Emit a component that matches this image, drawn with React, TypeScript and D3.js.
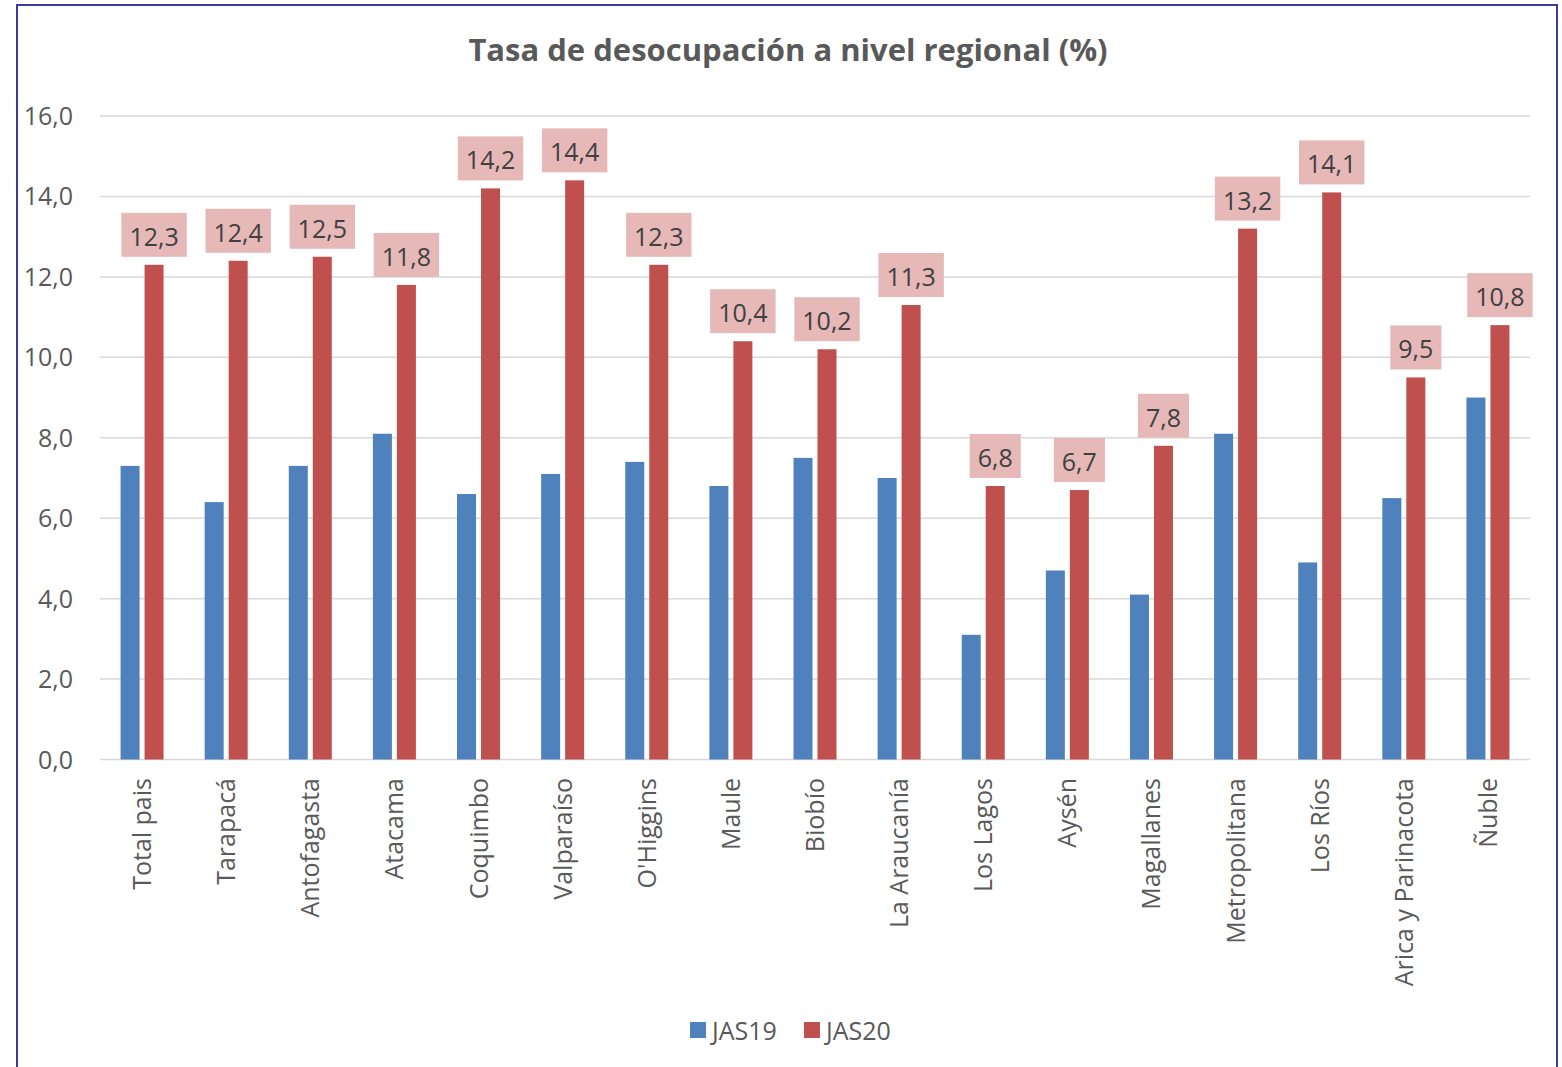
import * as d3 from 'd3';
import React from 'react';

const regions = [
  'Total pais', 'Tarapacá', 'Antofagasta', 'Atacama', 'Coquimbo', 'Valparaíso',
  "O'Higgins", 'Maule', 'Biobío', 'La Araucanía', 'Los Lagos', 'Aysén',
  'Magallanes', 'Metropolitana', 'Los Ríos', 'Arica y Parinacota', 'Ñuble',
];
const jas19 = [7.3, 6.4, 7.3, 8.1, 6.6, 7.1, 7.4, 6.8, 7.5, 7.0, 3.1, 4.7, 4.1, 8.1, 4.9, 6.5, 9.0];
const jas20 = [12.3, 12.4, 12.5, 11.8, 14.2, 14.4, 12.3, 10.4, 10.2, 11.3, 6.8, 6.7, 7.8, 13.2, 14.1, 9.5, 10.8];
const seriesNames = ['JAS19', 'JAS20'];
const yTicks = [0, 2, 4, 6, 8, 10, 12, 14, 16];

const W = 1562;
const H = 1067;
const FONT = '"Open Sans", sans-serif';
const BLUE = '#4f81bd';
const RED = '#c0504d';
const GRID = '#d9d9d9';
const TXT = '#595959';

const fmt = (v: number) => v.toFixed(1).replace('.', ',');

// rough text width for the label boxes
const textW = (s: string, size: number) =>
  s.split('').reduce((a, c) => a + (c === ',' ? 0.26 : 0.572) * size, 0);

export default function App() {
  const x = d3.scaleBand<string>().domain(regions).range([100, 1530]).paddingInner(0).paddingOuter(0);
  const y = d3.scaleLinear().domain([0, 16]).range([759.5, 116]);
  const barW = 19;
  const gap = 5;

  return (
    <svg width={W} height={H} style={{ position: 'absolute', left: 0, top: 0, background: '#fff' }}
      fontFamily={FONT}>
      <rect x={17} y={5} width={1540} height={1080} fill="#fff" stroke="#3b3b9c" strokeWidth={2} />
      <text x={788} y={61} textAnchor="middle" fontSize={31} fontWeight={700} fill={TXT}>
        Tasa de desocupación a nivel regional (%)
      </text>

      {yTicks.map((t) => (
        <g key={t}>
          <line x1={100} x2={1530} y1={y(t)} y2={y(t)} stroke={GRID} strokeWidth={1.5} />
          <text x={73} y={y(t)} dy="0.36em" textAnchor="end" fontSize={25} fill={TXT}>
            {fmt(t)}
          </text>
        </g>
      ))}

      {regions.map((r, i) => {
        const cx = (x(r) as number) + x.bandwidth() / 2;
        const bx = cx - gap / 2 - barW;
        const rx = cx + gap / 2;
        const rcx = rx + barW / 2;
        const lbl = fmt(jas20[i]);
        const bw = textW(lbl, 25) + 16;
        const by = y(jas20[i]) - 8 - 44;
        return (
          <g key={r}>
            <rect x={bx} y={y(jas19[i])} width={barW} height={y(0) - y(jas19[i])} fill={BLUE} />
            <rect x={rx} y={y(jas20[i])} width={barW} height={y(0) - y(jas20[i])} fill={RED} />
            <rect x={rcx - bw / 2} y={by} width={bw} height={44} fill="#e6b8b7" />
            <text x={rcx} y={by + 33} textAnchor="middle" fontSize={25} fill="#404040">
              {lbl}
            </text>
            <text transform={`translate(${cx},778) rotate(-90)`} dy="0.36em" textAnchor="end"
              fontSize={25} fill={TXT}>
              {r}
            </text>
          </g>
        );
      })}

      {seriesNames.map((s, i) => {
        const lx = 690 + i * 114;
        return (
          <g key={s}>
            <rect x={lx} y={1022} width={16} height={16} fill={i === 0 ? BLUE : RED} />
            <text x={lx + 22} y={1040} fontSize={25} fill={TXT}>{s}</text>
          </g>
        );
      })}
    </svg>
  );
}
